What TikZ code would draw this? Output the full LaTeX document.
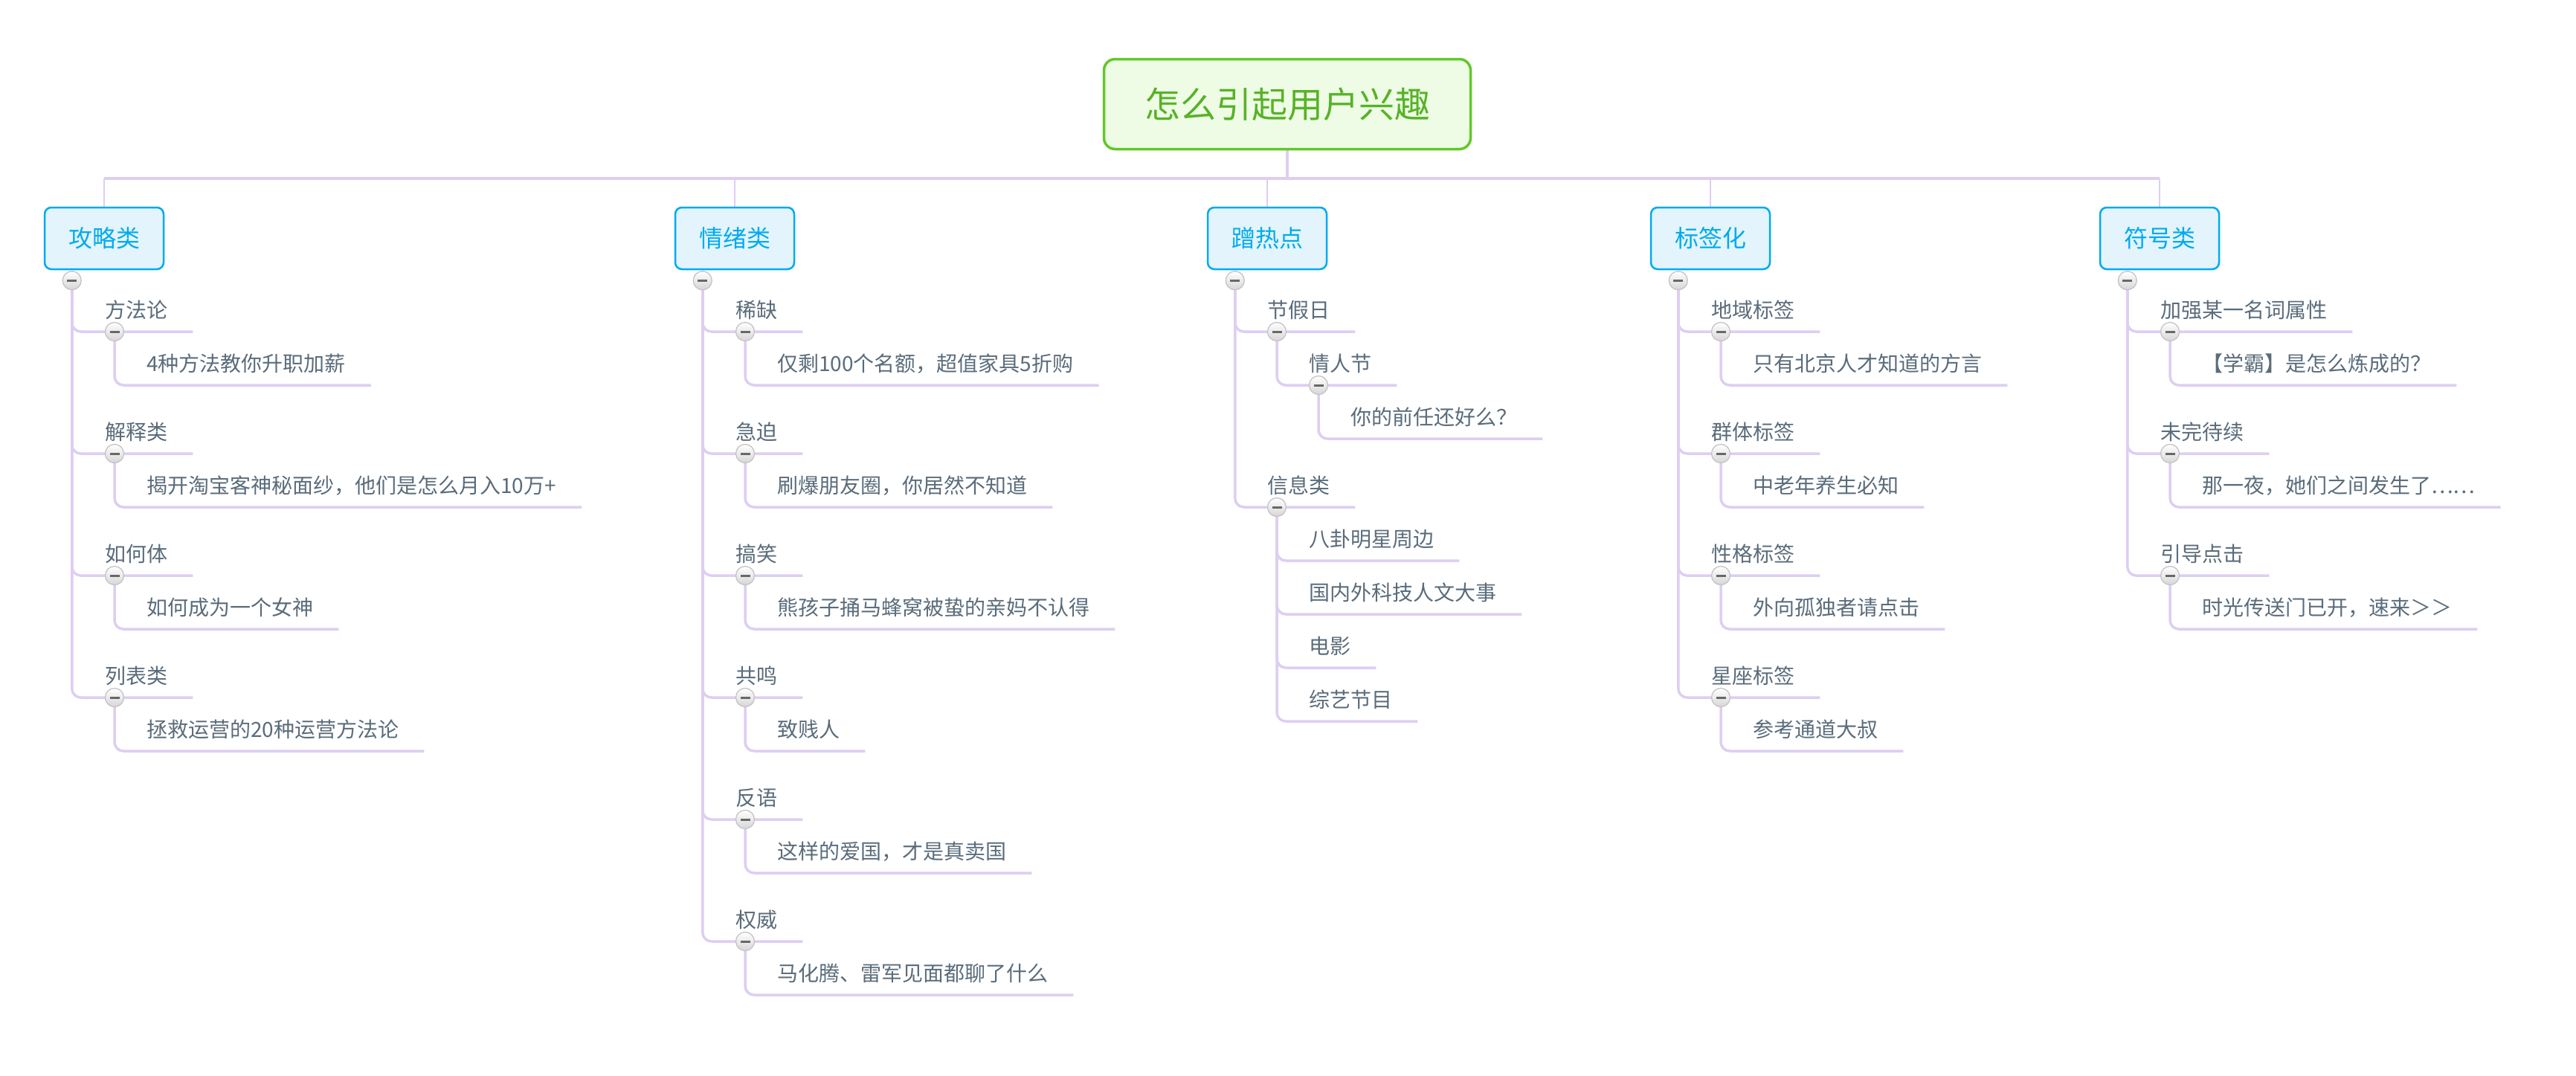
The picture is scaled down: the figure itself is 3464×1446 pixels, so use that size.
\documentclass[tikz,border=0pt]{standalone}
\usepackage{fontspec}
\setmainfont{Noto Sans CJK SC}
\usetikzlibrary{calc,positioning}
\definecolor{lila}{RGB}{222,206,242}
\definecolor{slate}{RGB}{90,108,122}
\definecolor{catblue}{RGB}{0,170,240}
\definecolor{catfill}{RGB}{227,244,253}
\definecolor{rootgreen}{RGB}{98,200,42}
\definecolor{rootfill}{RGB}{238,252,229}
\definecolor{roottext}{RGB}{88,178,40}
\definecolor{btnedge}{RGB}{196,196,196}
\definecolor{btnlow}{RGB}{214,214,214}
\definecolor{btnmark}{RGB}{104,104,104}
\pgfdeclarelayer{bg}
\pgfsetlayers{bg,main}
\newcommand{\topic}[4]{%
  \node[tlab] (#1) at (#2,#3-19) {#4};
  \coordinate (#1-u) at ($(#1.base east)+(34,19)$);}
\newcommand{\fold}[1]{\node[foldbtn] (#1-k) at ($(#1.base west)+(13,19)$) {};}
\tikzset{
  rbox/.style={draw=rootgreen, line width=3.5pt, fill=rootfill, rounded corners=15pt,
    minimum width=493pt, minimum height=121pt, text=roottext, font=\fontsize{48}{48}\selectfont},
  cbox/.style={draw=catblue, line width=2.5pt, fill=catfill, rounded corners=9pt,
    minimum width=160pt, minimum height=83pt, text=catblue, font=\fontsize{32}{32}\selectfont},
  tlab/.style={anchor=base west, inner sep=0pt, text=slate, font=\fontsize{28}{28}\selectfont},
  foldbtn/.style={circle, draw=btnedge, line width=1.3pt, top color=white, bottom color=btnlow,
    minimum size=25pt, inner sep=0pt, path picture={\draw[btnmark, line width=3pt]
      ([xshift=-6.5pt]path picture bounding box.center) -- ([xshift=6.5pt]path picture bounding box.center);}},
  brl/.style={lila, line width=3.5pt, rounded corners=12pt},
  barl/.style={lila, line width=4pt},
  vl/.style={lila, line width=2.5pt},
}
\begin{document}
\begin{tikzpicture}[x=1pt,y=-1pt]
\useasboundingbox (0,0) rectangle (3464,1446);
% root and categories
\node[rbox] (root) at (1731,140) {怎么引起用户兴趣};
\coordinate (bar) at (1731,240);
\node[cbox] (c1) at (140,320.5) {攻略类};
\node[cbox] (c2) at (988,320.5) {情绪类};
\node[cbox] (c3) at (1704,320.5) {蹭热点};
\node[cbox] (c4) at (2300,320.5) {标签化};
\node[cbox] (c5) at (2904,320.5) {符号类};
\foreach \i in {1,...,5}
  {\node[foldbtn] (c\i-k) at ($(c\i.south west)+(38,14)$) {};}
% 攻略类
\topic{gl1}{141}{446}{方法论}
\topic{gl1a}{197}{518}{4种方法教你升职加薪}
\topic{gl2}{141}{610}{解释类}
\topic{gl2a}{197}{682}{揭开淘宝客神秘面纱，他们是怎么月入10万+}
\topic{gl3}{141}{774}{如何体}
\topic{gl3a}{197}{846}{如何成为一个女神}
\topic{gl4}{141}{938}{列表类}
\topic{gl4a}{197}{1010}{拯救运营的20种运营方法论}
% 情绪类
\topic{qx1}{989}{446}{稀缺}
\topic{qx1a}{1045}{518}{仅剩100个名额，超值家具5折购}
\topic{qx2}{989}{610}{急迫}
\topic{qx2a}{1045}{682}{刷爆朋友圈，你居然不知道}
\topic{qx3}{989}{774}{搞笑}
\topic{qx3a}{1045}{846}{熊孩子捅马蜂窝被蛰的亲妈不认得}
\topic{qx4}{989}{938}{共鸣}
\topic{qx4a}{1045}{1010}{致贱人}
\topic{qx5}{989}{1102}{反语}
\topic{qx5a}{1045}{1174}{这样的爱国，才是真卖国}
\topic{qx6}{989}{1266}{权威}
\topic{qx6a}{1045}{1338}{马化腾、雷军见面都聊了什么}
% 蹭热点
\topic{rd1}{1704}{446}{节假日}
\topic{rd1a}{1760}{518}{情人节}
\topic{rd1b}{1816}{590}{你的前任还好么？}
\topic{rd2}{1704}{682}{信息类}
\topic{rd2a}{1760}{754}{八卦明星周边}
\topic{rd2b}{1760}{826}{国内外科技人文大事}
\topic{rd2c}{1760}{898}{电影}
\topic{rd2d}{1760}{970}{综艺节目}
% 标签化
\topic{bq1}{2301}{446}{地域标签}
\topic{bq1a}{2357}{518}{只有北京人才知道的方言}
\topic{bq2}{2301}{610}{群体标签}
\topic{bq2a}{2357}{682}{中老年养生必知}
\topic{bq3}{2301}{774}{性格标签}
\topic{bq3a}{2357}{846}{外向孤独者请点击}
\topic{bq4}{2301}{938}{星座标签}
\topic{bq4a}{2357}{1010}{参考通道大叔}
% 符号类
\topic{fh1}{2905}{446}{加强某一名词属性}
\topic{fh1a}{2961}{518}{【学霸】是怎么炼成的？}
\topic{fh2}{2905}{610}{未完待续}
\topic{fh2a}{2961}{682}{那一夜，她们之间发生了……}
\topic{fh3}{2905}{774}{引导点击}
\topic{fh3a}{2961}{846}{时光传送门已开，速来＞＞}
% fold buttons
\foreach \n in {gl1,gl2,gl3,gl4,qx1,qx2,qx3,qx4,qx5,qx6,rd1,rd1a,rd2,bq1,bq2,bq3,bq4,fh1,fh2,fh3}
  {\fold{\n}}
% connectors
\begin{pgfonlayer}{bg}
\fill[white] (0,0) rectangle (3464,1446);
\draw[barl] (root.south) -- (bar);
\draw[barl] (c1.north |- bar) -- (c5.north |- bar);
\foreach \i in {1,...,5}
  {\draw[vl] (c\i.north) -- (c\i.north |- bar);}
\foreach \i in {1,...,4} {
  \draw[brl] (c1-k) |- (gl\i-u);
  \draw[brl] (gl\i-k) |- (gl\i a-u);
  \draw[brl] (c4-k) |- (bq\i-u);
  \draw[brl] (bq\i-k) |- (bq\i a-u);
}
\foreach \i in {1,...,6} {
  \draw[brl] (c2-k) |- (qx\i-u);
  \draw[brl] (qx\i-k) |- (qx\i a-u);
}
\foreach \i in {1,...,3} {
  \draw[brl] (c5-k) |- (fh\i-u);
  \draw[brl] (fh\i-k) |- (fh\i a-u);
}
\draw[brl] (c3-k) |- (rd1-u);
\draw[brl] (c3-k) |- (rd2-u);
\draw[brl] (rd1-k) |- (rd1a-u);
\draw[brl] (rd1a-k) |- (rd1b-u);
\foreach \x in {a,b,c,d}
  {\draw[brl] (rd2-k) |- (rd2\x-u);}
\end{pgfonlayer}
\end{tikzpicture}
\end{document}
